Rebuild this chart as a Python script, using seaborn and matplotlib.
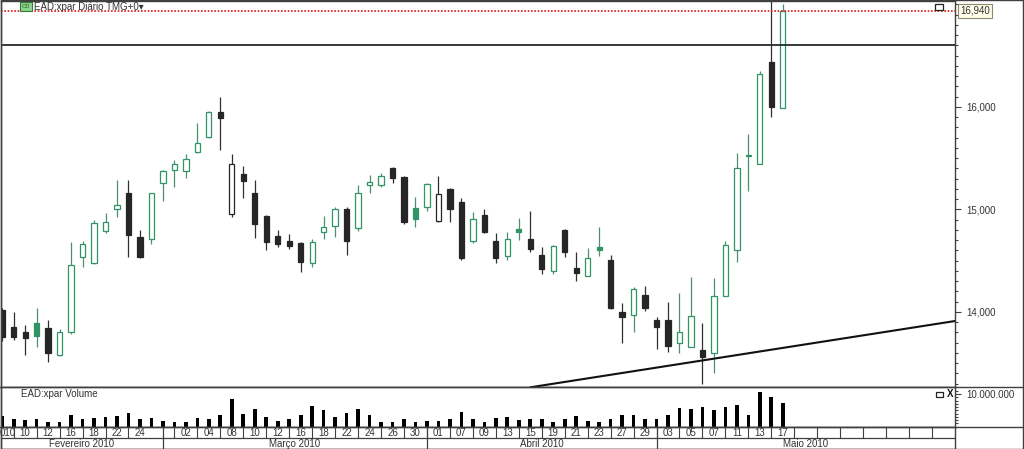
import numpy as np
import pandas as pd
import matplotlib
matplotlib.use("Agg")
import matplotlib.pyplot as plt
import seaborn as sns
from matplotlib.patches import Rectangle
from matplotlib.lines import Line2D
from matplotlib.ticker import MultipleLocator, FixedLocator

# ---------------- data ----------------
month_names = ["Fevereiro 2010", "Março 2010", "Abril 2010", "Maio 2010"]
month_days = [
    [8, 9, 10, 11, 12, 15, 16, 17, 18, 19, 22, 23, 24, 25, 26],
    [1, 2, 3, 4, 5, 8, 9, 10, 11, 12, 15, 16, 17, 18, 19, 22, 23, 24, 25, 26, 29, 30, 31],
    [1, 6, 7, 8, 9, 12, 13, 14, 15, 16, 19, 20, 21, 22, 23, 26, 27, 28, 29, 30],
    [3, 4, 5, 6, 7, 10, 11, 12, 13, 14, 17],
]
first_label = "010"

opens = [14.02, 13.85, 13.80, 13.89, 13.84, 13.58, 13.80, 14.54, 14.48, 14.79,
         15.00, 15.16, 14.73, 14.71, 15.26, 15.39, 15.38, 15.56, 15.71, 15.95,
         14.96, 15.35, 15.16, 14.94, 14.74, 14.69, 14.67, 14.48, 14.78, 14.84,
         15.00, 14.82, 15.24, 15.24, 15.40, 15.32, 15.01, 15.02, 14.89, 15.20,
         15.07, 14.69, 14.95, 14.69, 14.55, 14.81, 14.71, 14.56, 14.40, 14.80,
         14.43, 14.35, 14.63, 14.51, 14.00, 13.97, 14.17, 13.92, 13.92, 13.70,
         13.66, 13.63, 13.60, 14.16, 14.60, 15.52, 15.44, 16.44, 15.99]
highs = [14.04, 14.00, 13.87, 14.04, 13.92, 13.83, 14.68, 14.69, 14.90, 14.97,
         15.29, 15.29, 14.80, 15.16, 15.39, 15.48, 15.54, 15.84, 15.96, 16.10,
         15.54, 15.42, 15.29, 14.95, 14.80, 14.76, 14.68, 14.71, 14.94, 15.02,
         15.02, 15.24, 15.34, 15.36, 15.41, 15.33, 15.12, 15.26, 15.33, 15.21,
         15.11, 14.98, 15.00, 14.77, 14.78, 14.92, 14.99, 14.63, 14.65, 14.81,
         14.59, 14.62, 14.83, 14.56, 14.09, 14.24, 14.25, 13.95, 14.10, 14.19,
         14.34, 13.89, 14.33, 14.69, 15.55, 15.74, 16.35, 17.10, 17.00]
lows = [13.72, 13.73, 13.58, 13.66, 13.51, 13.57, 13.79, 14.44, 14.47, 14.77,
        14.93, 14.54, 14.53, 14.66, 15.08, 15.22, 15.31, 15.55, 15.70, 15.58,
        14.93, 15.11, 14.72, 14.60, 14.63, 14.61, 14.39, 14.44, 14.71, 14.73,
        14.56, 14.79, 15.16, 15.22, 15.26, 14.86, 14.83, 14.99, 14.88, 14.88,
        14.51, 14.67, 14.77, 14.48, 14.51, 14.70, 14.59, 14.37, 14.37, 14.54,
        14.30, 14.35, 14.55, 14.03, 13.70, 13.80, 14.01, 13.64, 13.61, 13.60,
        13.66, 13.30, 13.40, 14.16, 14.49, 15.18, 15.44, 15.90, 15.99]
closes = [13.76, 13.755, 13.75, 13.77, 13.60, 13.80, 14.46, 14.66, 14.87, 14.88,
          15.04, 14.75, 14.54, 15.16, 15.38, 15.44, 15.49, 15.65, 15.95, 15.89,
          15.44, 15.28, 14.86, 14.68, 14.66, 14.64, 14.49, 14.68, 14.83, 15.00,
          14.69, 15.16, 15.27, 15.33, 15.31, 14.88, 14.91, 15.25, 15.15, 15.00,
          14.53, 14.91, 14.78, 14.53, 14.71, 14.78, 14.61, 14.42, 14.64, 14.59,
          14.38, 14.53, 14.60, 14.04, 13.95, 14.22, 14.04, 13.85, 13.67, 13.80,
          13.96, 13.56, 14.16, 14.65, 15.40, 15.535, 16.32, 16.00, 16.94]
volume_millions = [3.27, 2.26, 2.05, 2.26, 1.35, 1.53, 3.67, 2.26, 2.57, 2.87,
                   3.18, 4.10, 2.45, 2.75, 1.74, 1.53, 1.53, 2.66, 2.26, 3.67,
                   8.38, 3.88, 5.50, 2.87, 1.65, 2.26, 3.67, 6.24, 5.11, 2.87,
                   4.10, 5.41, 3.49, 1.53, 1.35, 2.45, 1.53, 1.74, 1.74, 2.45,
                   4.40, 2.45, 1.35, 2.66, 2.87, 2.05, 2.45, 2.26, 1.53, 2.26,
                   3.18, 1.74, 1.53, 2.45, 3.67, 3.67, 2.26, 2.45, 3.67, 5.63,
                   5.41, 6.12, 5.02, 6.12, 6.64, 3.58, 10.52, 8.99, 7.16]
resistance_level = 16.605
last_price = 16.94
trend_x = [46.28, 83.0]
trend_y = [13.27, 13.912]
price_ticks = [14.0, 15.0, 16.0]
volume_tick = 10.0

# ---------------- style ----------------
sns.set_theme(style="white")
plt.rcParams["font.family"] = ["Liberation Sans", "DejaVu Sans"]
TXT = "#333333"
GREEN = "#2f9466"
DARK = "#262626"
LINE = "#404040"

W, H = 1024, 449
fig = plt.figure(figsize=(W / 100, H / 100), dpi=100)
fig.patch.set_facecolor("white")

def fx(px):
    return px / W

def fy(py):
    return 1 - py / H

x_left, x_right = 0.5, 955.0
y_top, y_sep1, y_sep2, y_row = 0.5, 387.3, 426.7, 438.3
ax_p = fig.add_axes([fx(x_left), fy(y_sep1), fx(x_right - x_left), (y_sep1 - y_top) / H])
ax_v = fig.add_axes([fx(x_left), fy(y_sep2), fx(x_right - x_left), (y_sep2 - y_sep1) / H])
ax_d = fig.add_axes([fx(x_left), 0.0, fx(x_right - x_left), (H - y_sep2) / H])

n = len(closes)
idx = np.arange(n)
o = np.array(opens); c = np.array(closes); hi = np.array(highs); lo = np.array(lows)
prev = np.r_[o[0], c[:-1]]
up = c >= o
gain = c >= prev
edge_cols = [GREEN if g else DARK for g in gain]
fill_cols = ["white" if u else e for u, e in zip(up, edge_cols)]
wick_cols = ["#4f8f70" if g else "#303030" for g in gain]

XMIN, XMAX = -0.15, 83.0

# ---------------- price panel ----------------
ax_p.vlines(idx, lo, hi, colors=wick_cols, linewidth=0.9, zorder=2)
body_lo = np.minimum(o, c)
body_h = np.maximum(np.abs(c - o), 0.012)
ax_p.bar(idx, body_h, bottom=body_lo, width=0.46, color=fill_cols,
         edgecolor=edge_cols, linewidth=0.9, zorder=3)

ax_p.axhline(resistance_level, color="#2a2a2a", linewidth=1.3, zorder=4)
ax_p.axhline(last_price, color="#e01818", linewidth=1.2, linestyle=(0, (1, 1)), zorder=4)
ax_p.axline((trend_x[0], trend_y[0]), (trend_x[1], trend_y[1]), color="#111111",
            linewidth=1.5, zorder=4)

ax_p.set_xlim(XMIN, XMAX)
ax_p.set_ylim(16 - (y_sep1 - 107) / 102.5, 16 + (107 - y_top) / 102.5)
ax_p.set_xticks([])
ax_p.yaxis.set_major_locator(FixedLocator(price_ticks))
ax_p.yaxis.set_minor_locator(MultipleLocator(0.1))
ax_p.set_yticklabels([f"{t:.3f}".replace(".", ",") for t in price_ticks])
ax_p.tick_params(axis="y", which="both", left=False, labelleft=False, right=True,
                 labelright=True, direction="out", colors=LINE, labelcolor=TXT,
                 labelsize=7, width=0.8, pad=4)
ax_p.tick_params(axis="y", which="major", length=4)
ax_p.tick_params(axis="y", which="minor", length=2)

# header
fig.add_artist(Rectangle((fx(20), fy(10.5)), fx(12), 8 / H, transform=fig.transFigure,
                         facecolor="#8fd48f", edgecolor="#2e7d32", linewidth=0.8))
fig.text(fx(26), fy(6.5), "C0", fontsize=4.5, color="#1b5e20", ha="center", va="center")
fig.text(fx(33.5), fy(7), "EAD:xpar Diário TMG+0▾", fontsize=7, color=TXT, ha="left", va="center",
         family=["Liberation Sans", "DejaVu Sans"])
fig.add_artist(Rectangle((fx(935), fy(9.5)), fx(8), 6 / H, transform=fig.transFigure,
                         facecolor="white", edgecolor="#222222", linewidth=0.9))
# last price box
fig.add_artist(Rectangle((fx(957.5), fy(17.5)), fx(34), 14 / H, transform=fig.transFigure,
                         facecolor="#fdfde8", edgecolor="#8a8a70", linewidth=0.8))
fig.text(fx(960.5), fy(10.5), f"{last_price:.3f}".replace(".", ","), fontsize=7,
         color=TXT, ha="left", va="center")

# ---------------- volume panel ----------------
vol_df = pd.DataFrame({"i": idx, "v": volume_millions})
sns.barplot(data=vol_df, x="i", y="v", native_scale=True, color="black", saturation=1,
            width=0.32, ax=ax_v, errorbar=None, linewidth=0)
ax_v.set_xlim(XMIN, XMAX)
ax_v.set_ylim(0, (y_sep2 - y_sep1) / 3.27)
ax_v.set_xlabel(""); ax_v.set_ylabel("")
ax_v.set_xticks([])
ax_v.yaxis.set_major_locator(FixedLocator([volume_tick]))
ax_v.yaxis.set_minor_locator(MultipleLocator(1))
ax_v.set_yticklabels(["10.000.000"])
ax_v.tick_params(axis="y", which="both", left=False, labelleft=False, right=True,
                 labelright=True, direction="out", colors=LINE, labelcolor=TXT,
                 labelsize=7, width=0.8, pad=4)
ax_v.tick_params(axis="y", which="major", length=4)
ax_v.tick_params(axis="y", which="minor", length=2)
ax_v.text(0.021, 0.83, "EAD:xpar Volume", transform=ax_v.transAxes, fontsize=7,
          color=TXT, ha="left", va="center")
fig.add_artist(Rectangle((fx(935.5), fy(397)), fx(7), 5 / H, transform=fig.transFigure,
                         facecolor="white", edgecolor="#222222", linewidth=0.9))
fig.text(fx(950), fy(394.3), "X", fontsize=7, fontweight="bold", color="#111111",
         ha="center", va="center")

# ---------------- date axis ----------------
ax_d.set_xlim(XMIN, XMAX)
ax_d.set_ylim(0, 1)
ax_d.set_xticks([]); ax_d.set_yticks([])
row_y = (H - y_row) / (H - y_sep2)
ax_d.axhline(row_y, color=LINE, linewidth=0.9)

all_days = [d for m in month_days for d in m]
counts = [len(m) for m in month_days]
month_ends = list(np.cumsum(counts)[:-1] - 1)
for b in month_ends:
    ax_d.axvline(b, color=LINE, linewidth=0.9)
seps = [i for i in range(1, int(XMAX), 2) if not any(0 < b - i < 1.5 for b in month_ends)]
for s in seps:
    ax_d.plot([s, s], [row_y, 1], color=LINE, linewidth=0.8)
day_y = (row_y + 1) / 2
for i in range(0, n, 2):
    if i in month_ends:
        continue
    if i == 0:
        ax_d.text(0.45, day_y, first_label, fontsize=7, color=TXT, ha="center", va="center")
    else:
        ax_d.text(i, day_y, f"{all_days[i]:02d}", fontsize=7, color=TXT, ha="center", va="center")
starts = [XMIN] + list(month_ends)
ends = list(month_ends) + [XMAX]
for name, s, e in zip(month_names, starts, ends):
    ax_d.text((s + e) / 2, row_y / 2, name, fontsize=7, color=TXT, ha="center", va="center")

for ax in (ax_p, ax_v, ax_d):
    ax.set_facecolor("white")
    for sp in ax.spines.values():
        sp.set_visible(True)
        sp.set_color(LINE)
        sp.set_linewidth(1.0)

# full-width separators and frame
for py in (y_sep1, y_sep2):
    fig.add_artist(Line2D([0, 1], [fy(py), fy(py)], transform=fig.transFigure,
                          color=LINE, linewidth=1.0))
fig.add_artist(Rectangle((0.0005, 0.001), 0.999, 0.998, transform=fig.transFigure,
                         facecolor="none", edgecolor=LINE, linewidth=1.0))

fig.savefig("out.png", dpi=100, facecolor="white")
